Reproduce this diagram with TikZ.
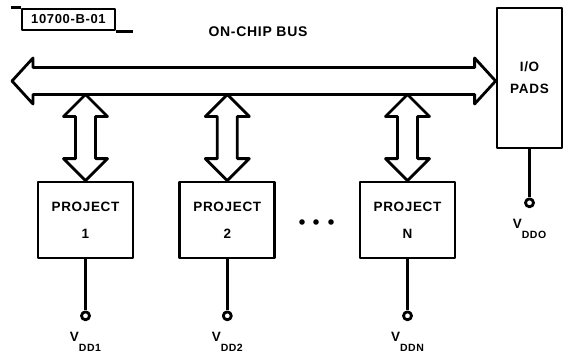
\documentclass[tikz,border=0pt]{standalone}
\usepackage{fontspec}
\setmainfont{Liberation Sans}[LetterSpace=5]
\usetikzlibrary{calc,positioning}

\tikzset{
  boxline/.style={draw=black,line width=2.8pt,line join=round},
  projbox/.style={boxline,fill=white,minimum width=95pt,minimum height=76pt,inner sep=0pt,align=center,font=\bfseries\fontsize{13.5}{27}\selectfont},
  padbox/.style={boxline,fill=white,minimum width=65pt,minimum height=140pt,inner sep=0pt,align=center,font=\bfseries\fontsize{13.5}{22}\selectfont},
  tagbox/.style={boxline,minimum width=93pt,minimum height=21pt,inner sep=0pt,font=\bfseries\fontsize{13}{13}\selectfont},
  buslabel/.style={inner sep=0pt,font=\bfseries\fontsize{14}{14}\selectfont},
  termdot/.style={circle,boxline,fill=white,minimum size=8pt,inner sep=0pt},
  vlabel/.style={inner sep=0pt,font=\bfseries\fontsize{13.5}{13.5}\selectfont},
}
% hollow double arrows: horizontal bus, vertical links
\newcommand\busarrow[2]{%
  \draw[boxline] (#1) -- ++(21,23) -- ++(0,-9.5) -- ($(#2)+(-21,13.5)$) -- ++(0,9.5)
    -- (#2) -- ++(-21,-23) -- ++(0,9.5) -- ($(#1)+(21,-13.5)$) -- ++(0,-9.5) -- cycle;}
\newcommand\linkarrow[2]{%
  \draw[boxline] (#1) -- ++(22,-22) -- ++(-12,0) -- ($(#2)+(10,22)$) -- ++(12,0)
    -- (#2) -- ++(-22,22) -- ++(12,0) -- ($(#1)+(-10,-22)$) -- ++(-12,0) -- cycle;}
\newcommand\vsub[1]{\raisebox{-10pt}{\fontsize{10.5}{10.5}\selectfont #1}}

\begin{document}
\begin{tikzpicture}[x=1pt,y=1pt]
  \useasboundingbox (0,0) rectangle (564,354);

  % drawing tag
  \node[tagbox] (tag) at (68.5,334.5) {10700-B-01};
  \draw[boxline] (tag.north west) -- ++(-10,0);
  \draw[boxline] (tag.south east) -- ++(17,0);

  \node[buslabel] (bustitle) at (258,322) {ON-CHIP BUS};

  % pads
  \node[padbox] (io) at (529.5,276) {I/O\\PADS};
  \node[termdot,below=48pt of io] (tio) {};
  \draw[boxline] (io.south) -- (tio);
  \node[vlabel,below=11pt of tio] (vio) {V\vsub{DDO}};

  % bus
  \coordinate (busL) at (12,273);
  \coordinate (busR) at (io.west |- busL);
  \coordinate (busB) at (12,259.5);
  \busarrow{busL}{busR}

  % projects
  \node[projbox] (p1) at (85.5,134) {PROJECT\\1};
  \node[projbox,right=44pt of p1] (p2) {PROJECT\\2};
  \node[projbox] (pN) at (407.5,134) {PROJECT\\N};

  \foreach \p/\s in {p1/1,p2/2,pN/N} {
    \linkarrow{\p.north |- busB}{\p.north}
    \node[termdot,below=51pt of \p] (t\p) {};
    \draw[boxline] (\p.south) -- (t\p);
    \node[vlabel,below=11pt of t\p] (v\p) {V\vsub{DD\s}};
  }

  \foreach \x in {302,316,331}
    \fill (\x,132) circle (2.8);
\end{tikzpicture}
\end{document}
